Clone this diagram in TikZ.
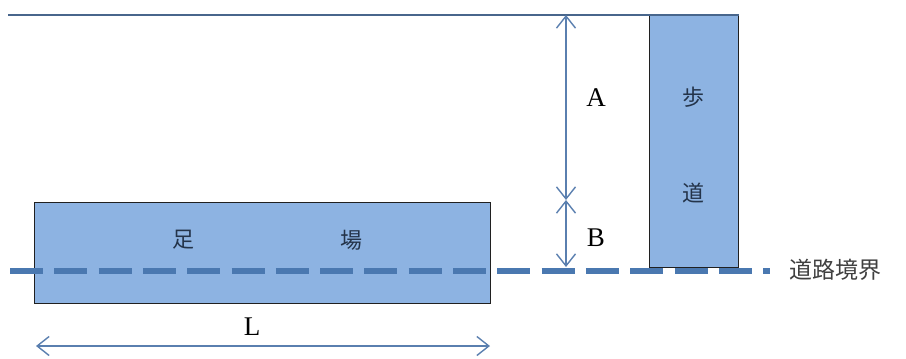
\documentclass[tikz,border=0pt]{standalone}
\usepackage{fontspec}
\setmainfont{Liberation Serif}
\newfontfamily\cjk{Noto Sans CJK JP}
\usetikzlibrary{arrows.meta}
\definecolor{boxfill}{HTML}{8DB3E2}
\definecolor{boxline}{HTML}{202020}
\definecolor{dimline}{HTML}{5A7FAF}
\definecolor{roadline}{HTML}{4A78B0}
\definecolor{cjktext}{HTML}{24344A}
\definecolor{bordertext}{HTML}{404040}
\tikzset{
  x=1pt, y=-1pt,
  area/.style={draw=boxline, line width=1.3pt, fill=boxfill, rectangle, inner sep=0pt, anchor=north west},
  dimarrow/.style={draw=dimline, line width=1.4pt, {Straight Barb[length=12pt,width=19pt]}-{Straight Barb[length=12pt,width=19pt]}},
  guide/.style={draw=dimline!80!black, line width=1.4pt},
  road/.style={draw=roadline, line width=6.5pt, dash pattern=on 33pt off 11.3pt},
  letter/.style={font=\fontsize{27}{27}\selectfont, text=black, inner sep=0pt},
  kanji/.style={font=\cjk\fontsize{22}{22}\selectfont, text=cjktext, inner sep=0pt},
}
\begin{document}
\begin{tikzpicture}
\useasboundingbox (0,0) rectangle (906,359);
% boxes
\node[area, minimum width=456pt, minimum height=101pt] (ashiba) at (34,202) {};
\node[area, minimum width=89pt, minimum height=252pt] (hodo) at (649,15) {};
% top line
\coordinate (tl) at (8,15);
\draw[guide] (tl) -- (hodo.north east);
% dimension A and B
\coordinate (atop) at (566,15);
\coordinate (amid) at (566,200);
\coordinate (abot) at (566,267);
\draw[dimarrow] (atop) -- (amid);
\draw[dimarrow] (amid) -- (abot);
% dimension L
\coordinate (lleft) at (36,346);
\coordinate (lright) at (490,346);
\draw[dimarrow] (lleft) -- (lright);
% road boundary dashed line
\coordinate (rs) at (10,271);
\coordinate (re) at (770,271);
\draw[road] (rs) -- (re);
% labels
\node[letter] (la) at (596,98) {A};
\node[letter] (lb) at (596,238) {B};
\node[letter] (ll) at (252,327) {L};
\node[kanji] (k1) at (183,240) {足};
\node[kanji] (k2) at (351,240) {場};
\node[kanji] (k3) at (693,97) {歩};
\node[kanji] (k4) at (693,193) {道};
\node[font=\cjk\fontsize{23}{23}\selectfont, text=bordertext, inner sep=0pt, anchor=west] (kb) at (789,270) {道路境界};
\end{tikzpicture}
\end{document}
